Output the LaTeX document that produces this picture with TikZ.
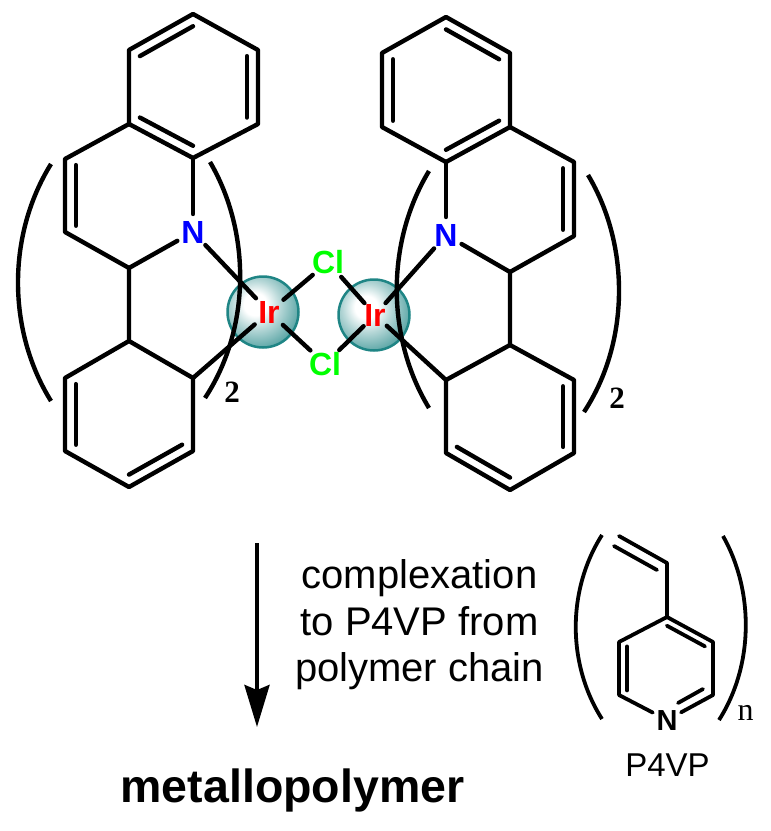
\documentclass[tikz,border=0pt]{standalone}
\usepackage{fontspec}
\setmainfont{Liberation Sans}
\newfontfamily\serifnum{Liberation Serif}
\usetikzlibrary{calc,arrows.meta}
\definecolor{irteal}{HTML}{1F8585}
\pgfdeclareradialshading{irball}{\pgfpoint{-6bp}{6bp}}{%
  color(0bp)=(white);color(8bp)=(white);color(17bp)=(white!68!irteal);
  color(26bp)=(white!40!irteal);color(33bp)=(white!18!irteal);color(40bp)=(irteal);color(100bp)=(irteal)}
\newcommand{\atomtext}[1]{\smash{\makebox[0pt]{\raisebox{-.36em}{#1}}}}
\tikzset{
  x=1pt,y=-1pt,
  bond/.style={line width=4.4pt,line cap=round,line join=round,black},
  pbond/.style={line width=3.8pt,line cap=round,line join=round,black},
  brack/.style={line width=4.4pt,black},
  pbrack/.style={line width=3.8pt,black},
  atom/.style={circle,inner sep=0pt,outer sep=0pt,minimum size=2*#1,font=\bfseries\fontsize{32}{32}\selectfont},
  atom/.default=18pt,
  sphere/.style={circle,inner sep=0pt,minimum size=71pt,shading=irball,draw=irteal,line width=2.5pt},
  idx/.style={font=\serifnum\bfseries\fontsize{31}{31}\selectfont,inner sep=0pt,anchor=base},
}
\newcommand{\inner}[4][bond]{\draw[#1] ($(#2)!.17!(#4)$) -- ($(#3)!.17!(#4)$);}
\begin{document}
\begin{tikzpicture}
\useasboundingbox (0,0) rectangle (771,831);
% spheres
\node[sphere] (ballL) at (263,312) {};
\node[sphere] (ballR) at (374,315) {};
% left ligand atoms
\foreach \n/\x/\y in {a1/193/14,a2/258/50,a3/258/124,a4/193/158,a5/129/124,a6/129/50,
  b1/65/159,b2/65/232,b3/129/268,c1/129/341,c2/65/378,c3/65/451,c4/129/487,c5/193/451,c6/193/378,
  ca/193/86,cb/129/195,cc/129/414}{\coordinate (\n) at (\x,\y);}
% right ligand atoms
\foreach \n/\x/\y in {d1/446/17,d2/510/53,d3/510/127,d4/446/162,d5/382/127,d6/382/53,
  e1/574/162,e2/574/236,e3/510/272,f1/510/345,f2/574/380,f3/574/453,f4/510/490,f5/446/453,f6/446/380,
  cd/446/90,ce/510/199,cf/510/417}{\coordinate (\n) at (\x,\y);}
% labels
\node[atom,text=blue] (N1) at (193,232) {\atomtext{N}};
\node[atom,text=blue] (N2) at (446,235) {\atomtext{N}};
\node[atom=19pt,text=red] (Ir1) at (269,312) {\atomtext{Ir}};
\node[atom=16pt,text=red] (Ir2) at (375,315) {\atomtext{Ir}};
\node[atom=20pt,text=green] (Cl1) at (328,262) {\atomtext{Cl}};
\node[atom=20pt,text=green] (Cl2) at (325,364) {\atomtext{Cl}};
% left ligand
\draw[bond] (a1)--(a2)--(a3)--(a4)--(a5)--(a6)--cycle;
\draw[bond] (a5)--(b1)--(b2)--(b3)--(c1)--(c2)--(c3)--(c4)--(c5)--(c6)--(c1);
\draw[bond] (a4)--(N1);
\draw[bond] (b3)--(N1);
\draw[bond] (N1)--(Ir1);
\draw[bond] (c6)--(Ir1);
\inner{a6}{a1}{ca}\inner{a2}{a3}{ca}\inner{a4}{a5}{ca}
\inner{b1}{b2}{cb}\inner{c2}{c3}{cc}\inner{c4}{c5}{cc}
% right ligand
\draw[bond] (d1)--(d2)--(d3)--(d4)--(d5)--(d6)--cycle;
\draw[bond] (d3)--(e1)--(e2)--(e3)--(f1)--(f2)--(f3)--(f4)--(f5)--(f6)--(f1);
\draw[bond] (d4)--(N2);
\draw[bond] (e3)--(N2);
\draw[bond] (N2)--(Ir2);
\draw[bond] (f6)--(Ir2);
\inner{d1}{d2}{cd}\inner{d5}{d6}{cd}\inner{d3}{d4}{cd}
\inner{e1}{e2}{ce}\inner{f2}{f3}{cf}\inner{f4}{f5}{cf}
% chloride bridges
\draw[bond] (Ir1)--(Cl1);
\draw[bond] (Ir1)--(Cl2);
\draw[bond] (Ir2)--(Cl1);
\draw[bond] (Ir2)--(Cl2);
% brackets
\draw[brack] (51,164) .. controls (7,235) and (7,330) .. (51,401);
\draw[brack] (210,162) .. controls (251,232) and (251,328) .. (205,398);
\draw[brack] (429,171) .. controls (386,242) and (386,337) .. (429,408);
\draw[brack] (588,175) .. controls (630,245) and (630,342) .. (584,412);
\node[idx] (two1) at (232,402) {2};
\node[idx] (two2) at (617,408) {2};
% reaction arrow
\coordinate (arrS) at (257,543);
\coordinate (arrE) at (257,727);
\draw[line width=4pt,-{Stealth[length=42pt,width=25pt,inset=5pt]}] (arrS)--(arrE);
\node[align=center,inner sep=0pt,font=\fontsize{40}{46.5}\selectfont] (cond) at (419.5,625)
  {complexation\\to P4VP from\\polymer chain};
\node[inner sep=0pt,anchor=base,font=\bfseries\fontsize{46.5}{46.5}\selectfont] (prod) at (292.5,802) {metallopolymer};
% P4VP
\foreach \n/\x/\y in {v1/619/536,v2/667/563,p1/667/617,p2/713/642,p3/713/695,p5/619/695,p6/619/642,pc/666/668}{\coordinate (\n) at (\x,\y);}
\node[atom=16pt,font=\bfseries\fontsize{29}{29}\selectfont] (N3) at (667,720) {\atomtext{N}};
\draw[pbond] (v1)--(v2)--(p1)--(p2)--(p3)--(N3);
\draw[pbond] (p1)--(p6)--(p5)--(N3);
\draw[pbond] (614,546)--(657,570);
\inner[pbond]{p1}{p2}{pc}\inner[pbond]{p5}{p6}{pc}
\draw[pbond] (678,703)--(703,689);
\draw[pbrack] (602,535) .. controls (567,590) and (567,664) .. (602,719);
\draw[pbrack] (723,536) .. controls (754,591) and (754,665) .. (719,720);
\node[inner sep=0pt,anchor=base,font=\serifnum\fontsize{32}{32}\selectfont] (nidx) at (745.5,720) {n};
\node[inner sep=0pt,anchor=base,font=\fontsize{33}{33}\selectfont] (plab) at (667.5,776) {P4VP};
\end{tikzpicture}
\end{document}
